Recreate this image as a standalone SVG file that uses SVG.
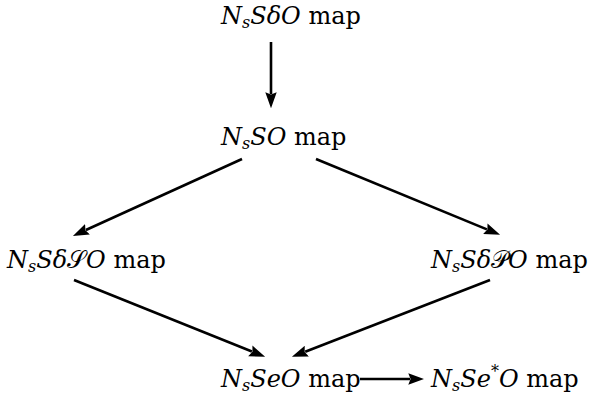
<svg xmlns="http://www.w3.org/2000/svg" width="594" height="399" viewBox="0 0 594 399">
<style>
text{font-family:'DejaVu Serif',serif;font-size:24px;fill:#000}
.i{font-style:italic}
.sub{font-style:italic;font-size:16px}
.c{font-family:'DejaVu Serif',serif;font-style:normal}
line{stroke:#000;stroke-width:2.6;fill:none}
</style>
<defs>
<marker id="ah" markerUnits="userSpaceOnUse" markerWidth="16" markerHeight="12" viewBox="0 0 14 10" refX="1.5" refY="5" orient="auto">
<path d="M0,0 L14,5 L0,10 L2,5 z" fill="#000"/>
</marker>
</defs>
<g id="n1"><text x="221" y="24"><tspan class="i">N</tspan><tspan class="sub" dy="4">s</tspan><tspan class="i" dy="-4">SδO</tspan> map</text></g>
<g id="n2"><text x="221" y="145"><tspan class="i">N</tspan><tspan class="sub" dy="4">s</tspan><tspan class="i" dy="-4">SO</tspan> map</text></g>
<g id="n3"><text x="7" y="268"><tspan class="i">N</tspan><tspan class="sub" dy="4">s</tspan><tspan class="i" dy="-4">Sδ</tspan><tspan class="c">𝒮</tspan><tspan class="i">O</tspan> map</text></g>
<g id="n4"><text x="431" y="268"><tspan class="i">N</tspan><tspan class="sub" dy="4">s</tspan><tspan class="i" dy="-4">Sδ</tspan><tspan class="c">𝒫</tspan><tspan class="i">O</tspan> map</text></g>
<g id="n5"><text x="221" y="387"><tspan class="i">N</tspan><tspan class="sub" dy="4">s</tspan><tspan class="i" dy="-4">SeO</tspan> map</text></g>
<g id="n6"><text x="431" y="387"><tspan class="i">N</tspan><tspan class="sub" dy="4">s</tspan><tspan class="i" dy="-4">Se</tspan><tspan font-size="16" dy="-10">*</tspan><tspan class="i" dy="10">O</tspan> map</text></g>
<g id="connectors">
<line x1="271" y1="42" x2="271" y2="94" marker-end="url(#ah)"/>
<line x1="242" y1="159" x2="85.9" y2="230" marker-end="url(#ah)"/>
<line x1="316" y1="159" x2="486.9" y2="229.4" marker-end="url(#ah)"/>
<line x1="74" y1="280" x2="251.9" y2="351.5" marker-end="url(#ah)"/>
<line x1="490" y1="280" x2="305.2" y2="351.7" marker-end="url(#ah)"/>
<line x1="360" y1="379" x2="410" y2="379" marker-end="url(#ah)"/>
</g>
</svg>
